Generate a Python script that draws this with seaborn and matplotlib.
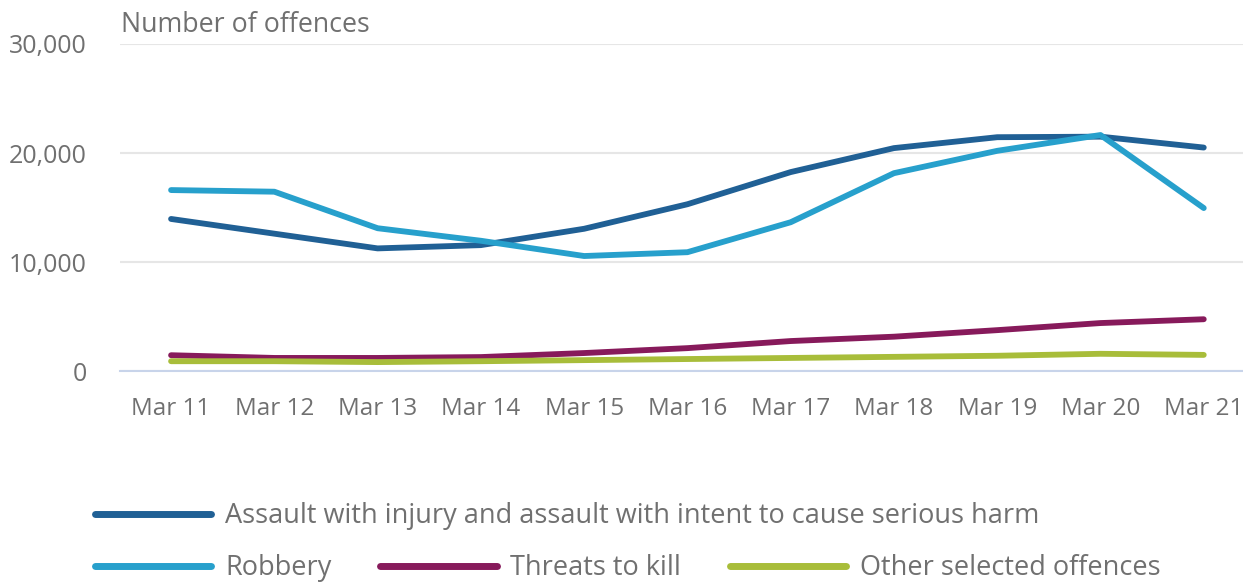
import pandas as pd
import numpy as np
import matplotlib.pyplot as plt
import seaborn as sns

# Values
years = ["Mar 11", "Mar 12", "Mar 13", "Mar 14", "Mar 15", "Mar 16",
         "Mar 17", "Mar 18", "Mar 19", "Mar 20", "Mar 21"]
assault = [13950, 12600, 11250, 11550, 13050, 15300, 18250, 20450, 21450, 21500, 20500]
robbery = [16600, 16450, 13100, 11950, 10550, 10900, 13650, 18150, 20200, 21650, 14950]
threats = [1450, 1200, 1200, 1280, 1650, 2100, 2750, 3150, 3750, 4400, 4750]
other = [900, 900, 820, 900, 1000, 1100, 1200, 1300, 1400, 1580, 1480]

series_names = ["Assault with injury and assault with intent to cause serious harm",
                "Robbery", "Threats to kill", "Other selected offences"]
colors = ["#206095", "#27a0cc", "#871a5b", "#a8bd3a"]

df = pd.DataFrame({"period": years * 4,
                   "x": list(range(len(years))) * 4,
                   "value": assault + robbery + threats + other,
                   "series": np.repeat(series_names, len(years))})

sns.set_theme(style="white")
plt.rcParams['font.family'] = ['Open Sans', 'DejaVu Sans']

fig = plt.figure(figsize=(12.43, 5.82), dpi=100)
ax = fig.add_axes([0.0965, 0.3625, 0.9035, 0.5619])

sns.lineplot(data=df, x="x", y="value", hue="series", palette=colors,
             linewidth=4.2, ax=ax, legend=False)
for line in ax.lines:
    line.set_solid_capstyle("round")
    line.set_solid_joinstyle("round")

grey = "#707070"
ax.set_xlim(-0.495, 10.38)
ax.set_ylim(0, 30000)
ax.set_yticks([0, 10000, 20000, 30000])
ax.set_yticklabels(["0", "10,000", "20,000", "30,000"])
ax.set_xticks(range(len(years)))
ax.set_xticklabels(years)
ax.yaxis.grid(True, color="#e6e6e6", linewidth=1.5)
ax.set_axisbelow(True)
for s in ["top", "right", "left"]:
    ax.spines[s].set_visible(False)
ax.spines["bottom"].set_color("#c8d4ea")
ax.spines["bottom"].set_linewidth(1.5)
ax.tick_params(axis="x", colors="#c8d4ea", length=14.5, width=1.5, direction="out",
               labelcolor=grey, labelsize=17.5, pad=4)
ax.tick_params(axis="y", length=0, labelcolor=grey, labelsize=18, pad=24)
ax.set_xlabel("")
ax.set_ylabel("")
fig.text(0.0975, 0.957, "Number of offences", color=grey, fontsize=19.3, va="center")

# Legend laid out in two rows like the reference
handles = [plt.Line2D([0], [0], color=c, linewidth=5) for c in colors]
leg_kw = dict(frameon=False, fontsize=19.5, handlelength=4.3, handletextpad=0.5,
              labelcolor=grey, borderaxespad=0, borderpad=0)
leg1 = fig.legend(handles[:1], series_names[:1], loc="center left",
                  bbox_to_anchor=(0.0764, 0.1134), **leg_kw)
leg2 = fig.legend(handles[1:], series_names[1:], loc="center left", ncol=3,
                  columnspacing=1.8, bbox_to_anchor=(0.0764, 0.024), **leg_kw)

fig.savefig("out.png", dpi=100)
